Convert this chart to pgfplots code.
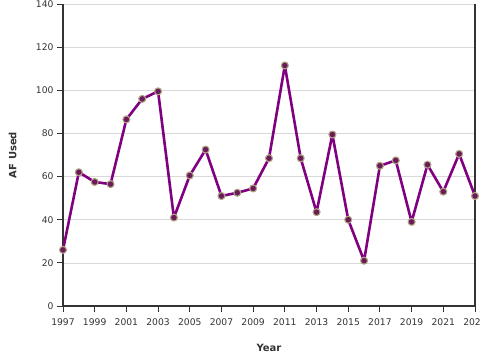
\documentclass[border=0pt]{standalone}
\usepackage{fontspec}
\setmainfont{DejaVu Sans}
\usepackage{pgfplots}
\pgfplotsset{compat=1.18}
\definecolor{linepurple}{HTML}{800080}
\definecolor{markfill}{HTML}{6B1A5A}
\definecolor{markedge}{HTML}{B0A484}
\definecolor{axisgray}{HTML}{333333}
\definecolor{gridgray}{HTML}{D9D9D9}
\begin{document}
\begin{tikzpicture}
\path[use as bounding box] (-63pt,-54pt) rectangle (417pt,306pt);
\begin{axis}[
  at={(0pt,0pt)}, anchor=south west,
  scale only axis, width=412pt, height=302pt,
  xmin=1997, xmax=2023, ymin=0, ymax=140,
  axis lines*=left,
  axis line style={axisgray, line width=1.6pt},
  xtick={1997,1999,...,2023},
  ytick={0,20,...,140},
  x tick label style={/pgf/number format/1000 sep={}, yshift=-3pt},
  /pgf/number format/assume math mode=true,
  tick label style={font=\fontsize{9.2}{11}\selectfont, text=axisgray},
  tick style={axisgray, line width=0.9pt},
  tick align=outside,
  major tick length=6pt,
  ymajorgrids=true,
  grid style={gridgray, line width=0.7pt},
  xlabel={\bfseries Year},
  ylabel={\bfseries AF Used},
  label style={font=\fontsize{10}{12}\selectfont, text=axisgray},
  xlabel style={at={(axis description cs:0.5,0)}, anchor=north, yshift=-35pt},
  ylabel style={at={(axis description cs:0,0.5)}, anchor=south, yshift=43pt},
  clip=false,
]
\addplot[linepurple, line width=2.6pt, line join=round,
  mark=*, mark size=3.5pt,
  mark options={fill=markfill, draw=markedge, line width=1.1pt}]
coordinates {
(1997,26)(1998,62)(1999,57.5)(2000,56.5)(2001,86.5)(2002,96)(2003,99.5)
(2004,41)(2005,60.5)(2006,72.5)(2007,51)(2008,52.5)(2009,54.5)(2010,68.5)
(2011,111.5)(2012,68.5)(2013,43.5)(2014,79.5)(2015,40)(2016,21)(2017,65)
(2018,67.5)(2019,39)(2020,65.5)(2021,53)(2022,70.5)(2023,51)
};
\draw[axisgray, line width=1.6pt] (axis cs:2023,0) -- (axis cs:2023,140);
\end{axis}
\end{tikzpicture}
\end{document}
